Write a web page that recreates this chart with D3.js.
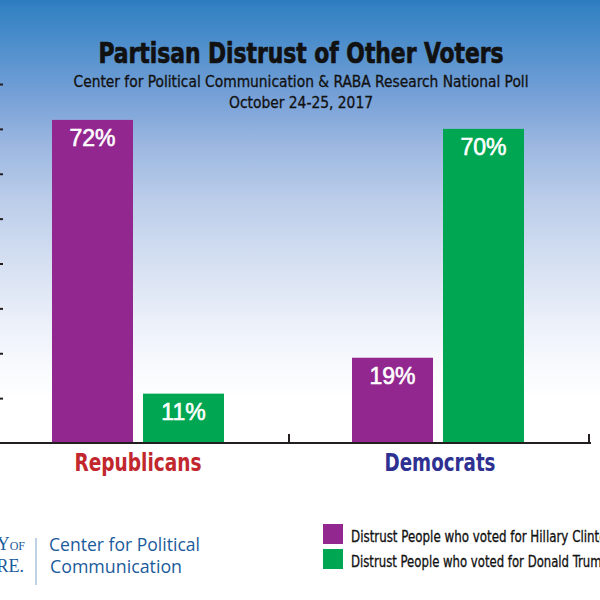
<!DOCTYPE html>
<html><head><meta charset="utf-8">
<script src="https://cdn.jsdelivr.net/npm/d3@7"></script>
<style>html,body{margin:0;padding:0;background:#fff;}svg{display:block;}</style>
</head><body>
<script>
const categories = ["Republicans", "Democrats"];
const series = ["Distrust People who voted for Hillary Clinton", "Distrust People who voted for Donald Trump"];
const hillaryValues = [72, 19];
const trumpValues = [11, 70];
const yTicks = [10, 20, 30, 40, 50, 60, 70, 80];
const title = "Partisan Distrust of Other Voters";
const subtitle = "Center for Political Communication & RABA Research National Poll";
const dateLine = "October 24-25, 2017";

const W = 600, H = 600;
const colors = ["#92278f", "#00a651"];
const catColors = ["#c1272d", "#2e3192"];
const condensed = "'Liberation Sans Narrow','DejaVu Sans Condensed','Roboto Condensed',sans-serif";

const svg = d3.select("body").append("svg").attr("width", W).attr("height", H);
const defs = svg.append("defs");
const grad = defs.append("linearGradient").attr("id", "bg")
  .attr("gradientUnits", "userSpaceOnUse").attr("x1", 0).attr("y1", 0).attr("x2", 0).attr("y2", 440);
[[0, "#2b7bbe"], [6, "#3381c3"], [40, "#4b8dcb"], [100, "#79a2d8"], [147, "#9db8e1"], [200, "#bbcdea"],
 [267, "#d7e1f2"], [327, "#edf1fa"], [367, "#f8fafd"], [400, "#ffffff"], [440, "#ffffff"]]
  .forEach(([o, c]) => grad.append("stop").attr("offset", o / 440).attr("stop-color", c));

svg.append("rect").attr("width", W).attr("height", H).attr("fill", "#fff");
svg.append("rect").attr("width", W).attr("height", 440).attr("fill", "url(#bg)");

// scales
const x0 = d3.scaleBand().domain(categories).range([-12, 588]);
const x1 = d3.scaleBand().domain(series).range([64, 236]).paddingInner(0.11);
const y = d3.scaleLinear().domain([0, 80]).range([443, 84]);

// left axis ticks (cropped)
const yAxis = svg.append("g")
  .call(d3.axisRight(y).tickValues(yTicks).tickSize(3).tickFormat(""));
yAxis.select(".domain").remove();
yAxis.selectAll(".tick line").attr("stroke", "#231f20").attr("stroke-width", 2);

// bars
const data = categories.map((c, i) => ({cat: c, vals: [hillaryValues[i], trumpValues[i]]}));
const groups = svg.selectAll("g.grp").data(data).join("g").attr("class", "grp")
  .attr("transform", d => `translate(${x0(d.cat)},0)`);
groups.selectAll("rect").data(d => d.vals.map((v, j) => ({s: series[j], v, j}))).join("rect")
  .attr("x", d => x1(d.s)).attr("width", x1.bandwidth())
  .attr("y", d => y(d.v)).attr("height", d => y(0) - y(d.v))
  .attr("fill", d => colors[d.j]);
groups.selectAll("text.val").data(d => d.vals.map((v, j) => ({s: series[j], v, j}))).join("text")
  .attr("class", "val")
  .attr("x", d => x1(d.s) + x1.bandwidth() / 2).attr("y", d => y(d.v) + 26)
  .attr("text-anchor", "middle").attr("fill", "#fff")
  .attr("stroke", "#fff").attr("stroke-width", 0.6)
  .style("font-family", "'Liberation Sans',Arial,sans-serif").style("font-size", "23px")
  .text(d => d.v + "%");

// x axis baseline with separator ticks
const xAxis = svg.append("g").attr("transform", `translate(0,${y(0)})`);
xAxis.append("line").attr("x1", 0).attr("x2", 591).attr("y1", 0).attr("y2", 0)
  .attr("stroke", "#231f20").attr("stroke-width", 2);
xAxis.selectAll("line.sep").data(categories).join("line").attr("class", "sep")
  .attr("x1", d => x0(d) + x0.bandwidth() + 1).attr("x2", d => x0(d) + x0.bandwidth() + 1)
  .attr("y1", 0).attr("y2", -9).attr("stroke", "#231f20").attr("stroke-width", 2);

// category labels
const catWidths = [127, 111];
svg.selectAll("text.cat").data(categories).join("text").attr("class", "cat")
  .attr("x", d => x0(d) + x0.bandwidth() / 2 + (d === "Democrats" ? 2 : 0)).attr("y", 471)
  .attr("text-anchor", "middle").attr("fill", (d, i) => catColors[i])
  .style("font-family", condensed).style("font-weight", "bold").style("font-size", "24px")
  .attr("textLength", (d, i) => catWidths[i]).attr("lengthAdjust", "spacingAndGlyphs")
  .text(d => d);

// titles
svg.append("text").attr("x", 301).attr("y", 63).attr("text-anchor", "middle")
  .style("font-family", condensed).style("font-weight", "bold").style("font-size", "28px")
  .attr("stroke", "#111").attr("stroke-width", 0.7)
  .attr("textLength", 405).attr("lengthAdjust", "spacingAndGlyphs").attr("fill", "#111").text(title);
svg.append("text").attr("x", 301).attr("y", 87).attr("text-anchor", "middle")
  .style("font-family", condensed).style("font-size", "16px")
  .attr("stroke", "#111").attr("stroke-width", 0.3)
  .attr("textLength", 455).attr("lengthAdjust", "spacingAndGlyphs").attr("fill", "#111").text(subtitle);
svg.append("text").attr("x", 301).attr("y", 108).attr("text-anchor", "middle")
  .style("font-family", condensed).style("font-size", "16px")
  .attr("stroke", "#111").attr("stroke-width", 0.3)
  .attr("textLength", 144).attr("lengthAdjust", "spacingAndGlyphs").attr("fill", "#111").text(dateLine);

// legend
const legW = [263, 258];
const leg = svg.selectAll("g.leg").data(series).join("g").attr("class", "leg")
  .attr("transform", (d, i) => `translate(323,${524 + i * 25})`);
leg.append("rect").attr("width", 20).attr("height", 20).attr("fill", (d, i) => colors[i]);
leg.append("text").attr("x", 28).attr("y", 18)
  .style("font-family", condensed).style("font-size", "15px").attr("fill", "#111")
  .attr("stroke", "#111").attr("stroke-width", 0.3)
  .attr("textLength", (d, i) => legW[i]).attr("lengthAdjust", "spacingAndGlyphs")
  .text(d => d);

// logo
const logoBlue = "#1b5b9b";
const serif = "'Liberation Serif','DejaVu Serif',serif";
const t1 = svg.append("text").attr("x", 25).attr("y", 550).attr("text-anchor", "end")
  .style("font-family", serif).attr("fill", logoBlue);
t1.append("tspan").style("font-size", "18px").text("UNIVERSITY");
t1.append("tspan").style("font-size", "12px").text("OF");
svg.append("text").attr("x", 24).attr("y", 572).attr("text-anchor", "end")
  .style("font-family", serif).style("font-size", "18px").attr("fill", logoBlue).text("DELAWARE.");
svg.append("line").attr("x1", 36).attr("x2", 36).attr("y1", 538).attr("y2", 585)
  .attr("stroke", "#7fa3c8").attr("stroke-width", 1);
svg.append("text").attr("x", 49).attr("y", 551).style("font-family", "'Open Sans','Noto Sans',sans-serif")
  .style("font-size", "18px").attr("fill", logoBlue)
  .attr("textLength", 151).attr("lengthAdjust", "spacingAndGlyphs").text("Center for Political");
svg.append("text").attr("x", 50).attr("y", 573).style("font-family", "'Open Sans','Noto Sans',sans-serif")
  .style("font-size", "18px").attr("fill", logoBlue)
  .attr("textLength", 132).attr("lengthAdjust", "spacingAndGlyphs").text("Communication");
</script>
</body></html>
